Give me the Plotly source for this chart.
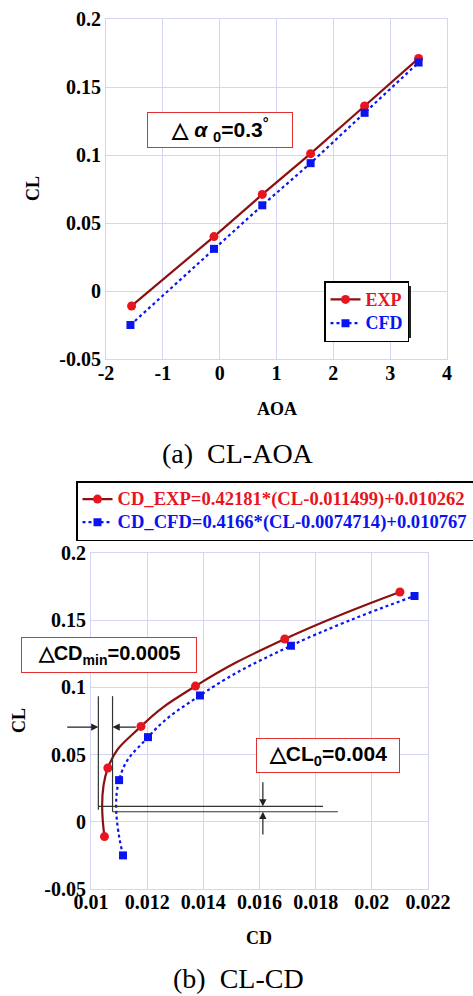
import plotly.graph_objects as go

# ---- data -------------------------------------------------------------
aoa_exp = [-1.55, -0.10, 0.75, 1.60, 2.55, 3.50]
cl_exp = [-0.011, 0.040, 0.071, 0.101, 0.136, 0.171]
aoa_cfd = [-1.57, -0.10, 0.75, 1.60, 2.55, 3.50]
cl_cfd = [-0.025, 0.031, 0.063, 0.094, 0.131, 0.168]

cd_exp = [0.01048, 0.01060, 0.01178, 0.01372, 0.01690, 0.02100]
cd_cfd = [0.01114, 0.01100, 0.01203, 0.01388, 0.01712, 0.02152]

# drag-polar fit parameters: CD = k*(CL-CL0)^2 + CDmin
k_exp, cl0_exp, cdmin_exp = 0.42181, 0.011499, 0.010262
k_cfd, cl0_cfd, cdmin_cfd = 0.4166, 0.0074714, 0.010767

x_ticks_a = [-2, -1, 0, 1, 2, 3, 4]
x_ticks_b = [0.01, 0.012, 0.014, 0.016, 0.018, 0.02, 0.022]
x_ticklabels_b = ["0.01", "0.012", "0.014", "0.016", "0.018", "0.02", "0.022"]
y_ticks = [-0.05, 0, 0.05, 0.1, 0.15, 0.2]
y_ticklabels = ["-0.05", "0", "0.05", "0.1", "0.15", "0.2"]

# ---- styling ----------------------------------------------------------
W, H = 473, 996
SERIF = "Liberation Serif, Times New Roman, serif"
SANS = "Liberation Sans, Arial, sans-serif"
EXP_LINE = "#8b1010"
EXP_MARK = "#e8141e"
CFD_COL = "#0a14f0"
GRID = "#d4d4f4"


def px(x):
    return x / W


def py(y):
    return 1 - y / H


def legend_text(text, color, size):
    return (f"<span style='color:{color};font-size:{size}px'>"
            f"<b>{text}</b></span>")


fig = go.Figure()

# (a) CL vs AOA
fig.add_trace(go.Scatter(
    x=aoa_exp, y=cl_exp, mode="lines+markers",
    name=legend_text("EXP", EXP_MARK, 18),
    line=dict(color=EXP_LINE, width=2.2),
    marker=dict(symbol="circle", size=9, color=EXP_MARK),
    xaxis="x", yaxis="y", legend="legend"))
fig.add_trace(go.Scatter(
    x=aoa_cfd, y=cl_cfd, mode="lines+markers",
    name=legend_text("CFD", CFD_COL, 18),
    line=dict(color=CFD_COL, width=2.2, dash="dot"),
    marker=dict(symbol="square", size=8, color=CFD_COL),
    xaxis="x", yaxis="y", legend="legend"))

# (b) CL vs CD
exp_label = f"CD_EXP={k_exp}*(CL-{cl0_exp})+{cdmin_exp}"
cfd_label = f"CD_CFD={k_cfd}*(CL-{cl0_cfd})+{cdmin_cfd}"
fig.add_trace(go.Scatter(
    x=cd_exp, y=cl_exp, mode="lines+markers",
    name=legend_text(exp_label, EXP_MARK, 18.6),
    line=dict(color=EXP_LINE, width=2.2, shape="spline", smoothing=1.3),
    marker=dict(symbol="circle", size=9, color=EXP_MARK),
    xaxis="x2", yaxis="y2", legend="legend2"))
fig.add_trace(go.Scatter(
    x=cd_cfd, y=cl_cfd, mode="lines+markers",
    name=legend_text(cfd_label, CFD_COL, 18.6),
    line=dict(color=CFD_COL, width=2.2, dash="dot", shape="spline", smoothing=1.3),
    marker=dict(symbol="square", size=8, color=CFD_COL),
    xaxis="x2", yaxis="y2", legend="legend2"))

axis_common = dict(
    showgrid=True, gridcolor=GRID, gridwidth=1,
    showline=True, linecolor=GRID, linewidth=1, mirror=True,
    zeroline=False, ticks="", ticklen=0, tickangle=0, automargin=False,
    tickfont=dict(family=SERIF, size=20, color="black", weight="bold"),
)

fig.update_layout(
    width=W, height=H,
    margin=dict(l=0, r=0, t=0, b=0, autoexpand=False),
    paper_bgcolor="white", plot_bgcolor="white",
    xaxis=dict(domain=[px(106), px(447)], anchor="y", range=[-2, 4],
               tickvals=x_ticks_a, ticktext=[str(v) for v in x_ticks_a],
               ticklabelstandoff=-4, **axis_common),
    yaxis=dict(domain=[py(359), py(19)], anchor="x", range=[-0.05, 0.2],
               tickvals=y_ticks, ticktext=y_ticklabels, **axis_common),
    xaxis2=dict(domain=[px(91), px(428)], anchor="y2", range=[0.01, 0.022],
                tickvals=x_ticks_b, ticktext=x_ticklabels_b,
                ticklabelstandoff=-5, **axis_common),
    yaxis2=dict(domain=[py(889), py(553)], anchor="x2", range=[-0.05, 0.2],
                tickvals=y_ticks, ticktext=y_ticklabels, **axis_common),
    legend=dict(x=px(324), y=py(281), xanchor="left", yanchor="top",
                bgcolor="white", bordercolor="black", borderwidth=1.5,
                font=dict(family=SERIF, size=16),
                itemwidth=30, tracegroupgap=0),
    legend2=dict(x=px(76), y=py(481), xanchor="left", yanchor="top",
                 bgcolor="white", bordercolor="black", borderwidth=1.5,
                 font=dict(family=SERIF, size=15.5),
                 itemwidth=30, tracegroupgap=0),
    showlegend=True,
)

shapes = []
# legend drop shadows
shapes.append(dict(type="rect", xref="paper", yref="paper",
                   x0=px(329), x1=px(411), y0=py(338), y1=py(286),
                   fillcolor="#222", line=dict(width=0), layer="above"))
shapes.append(dict(type="rect", xref="paper", yref="paper",
                   x0=px(79), x1=px(480), y0=py(535), y1=py(484),
                   fillcolor="#222", line=dict(width=0), layer="above"))

# CD_min and CL_0 construction lines in (b)
line_style = dict(color="#333", width=1.2)
cl_top = 0.0935
shapes += [
    dict(type="line", xref="x2", yref="y2", x0=cdmin_exp, x1=cdmin_exp,
         y0=cl_top, y1=0.009, line=line_style),
    dict(type="line", xref="x2", yref="y2", x0=cdmin_cfd, x1=cdmin_cfd,
         y0=cl_top, y1=0.0075, line=line_style),
    dict(type="line", xref="x2", yref="y2", x0=cdmin_exp, x1=0.01826,
         y0=cl0_exp, y1=cl0_exp, line=line_style),
    dict(type="line", xref="x2", yref="y2", x0=cdmin_cfd, x1=0.01879,
         y0=cl0_cfd, y1=cl0_cfd, line=line_style),
]
fig.update_layout(shapes=shapes)

annotations = []


def arrow(x, y, ax, ay):
    annotations.append(dict(
        xref="x2", yref="y2", axref="x2", ayref="y2",
        x=x, y=y, ax=ax, ay=ay, text="", showarrow=True,
        arrowhead=2, arrowsize=1.2, arrowwidth=1.2, arrowcolor="#222",
        standoff=0, startstandoff=0))


arrow(cdmin_exp, 0.0705, 0.00910, 0.0705)
arrow(cdmin_cfd, 0.0705, 0.01165, 0.0705)
arrow(0.01612, cl0_exp, 0.01612, 0.0305)
arrow(0.01612, cl0_cfd, 0.01612, -0.0105)

# boxed delta labels
annotations.append(dict(
    xref="paper", yref="paper", x=px(220), y=py(130),
    text="△ <i>α</i> <sub>0</sub>=0.3<sup>°</sup>",
    font=dict(family=SANS, size=21, color="black", weight="bold"),
    showarrow=False, bgcolor="white", bordercolor="#e03030", borderwidth=1,
    width=142, height=32, xanchor="center", yanchor="middle"))
annotations.append(dict(
    xref="paper", yref="paper", x=px(109), y=py(655),
    text="△CD<sub>min</sub>=0.0005",
    font=dict(family=SANS, size=20, color="black", weight="bold"),
    showarrow=False, bgcolor="white", bordercolor="#e03030", borderwidth=1,
    width=172, height=32, xanchor="center", yanchor="middle"))
annotations.append(dict(
    xref="paper", yref="paper", x=px(328), y=py(755),
    text="△CL<sub>0</sub>=0.004",
    font=dict(family=SANS, size=21, color="black", weight="bold"),
    showarrow=False, bgcolor="white", bordercolor="#e03030", borderwidth=1,
    width=140, height=31, xanchor="center", yanchor="middle"))

# axis titles and captions
title_font = dict(family=SERIF, size=18, color="black", weight="bold")
cap_font = dict(family=SERIF, size=28, color="black")
common = dict(xref="paper", yref="paper", showarrow=False,
              xanchor="center", yanchor="middle")
annotations += [
    dict(x=px(33), y=py(189), text="CL", textangle=-90, font=title_font, **common),
    dict(x=px(277), y=py(409), text="AOA", font=title_font, **common),
    dict(x=px(19), y=py(721), text="CL", textangle=-90, font=title_font, **common),
    dict(x=px(259), y=py(938), text="CD", font=title_font, **common),
    dict(x=px(238), y=py(453), text="(a)  CL-AOA", font=cap_font, **common),
    dict(x=px(238), y=py(978), text="(b)  CL-CD", font=cap_font,
         borderpad=0, **common),
]
fig.update_layout(annotations=annotations)

fig.write_html("out.html")
